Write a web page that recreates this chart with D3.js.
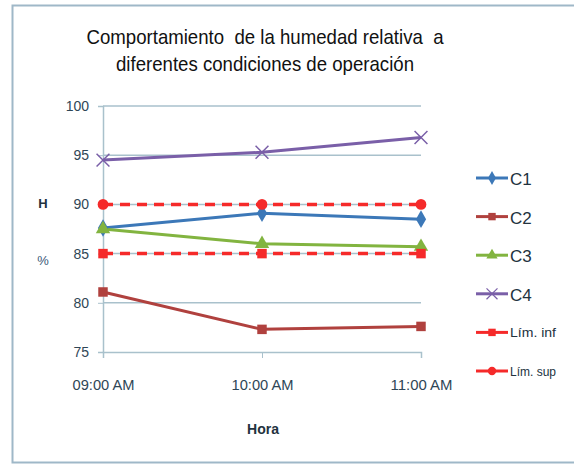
<!DOCTYPE html>
<html>
<head>
<meta charset="utf-8">
<script src="https://cdn.jsdelivr.net/npm/d3@7"></script>
<style>
  body { margin: 0; background: #fff; }
  text { font-family: "Liberation Sans Narrow", "Arial Narrow", "Liberation Sans", sans-serif; }
</style>
</head>
<body>
<div id="chart"></div>
<script>
// data
const horas = ["09:00 AM", "10:00 AM", "11:00 AM"];
const c1 = [87.6, 89.1, 88.5];
const c2 = [81.1, 77.3, 77.6];
const c3 = [87.5, 86.0, 85.7];
const c4 = [94.5, 95.3, 96.8];
const limInf = [85, 85, 85];
const limSup = [90, 90, 90];
const yTicks = [75, 80, 85, 90, 95, 100];

const series = [
    {name: "C1", values: c1, color: "#3c78b8", symbol: d3.symbolDiamond, dash: null},
    {name: "C2", values: c2, color: "#b0413e", symbol: d3.symbolSquare, dash: null},
    {name: "C3", values: c3, color: "#82b440", symbol: d3.symbolTriangle, dash: null},
    {name: "C4", values: c4, color: "#7a5fa8", symbol: d3.symbolX, dash: null},
    {name: "Lím. inf", values: limInf, color: "#f52a2a", symbol: d3.symbolSquare, dash: "10,7"},
    {name: "Lím. sup", values: limSup, color: "#f52a2a", symbol: d3.symbolCircle, dash: "10,7"}
];

const W = 574, H = 465;
const svg = d3.select("#chart").append("svg")
    .attr("width", W).attr("height", H);

// outer frame
svg.append("rect")
    .attr("x", 12.5).attr("y", 5.5)
    .attr("width", 565).attr("height", 457)
    .attr("fill", "#fff")
    .attr("stroke", "#9fb8c8").attr("stroke-width", 2);

const x = d3.scalePoint().domain(horas).range([103, 421]);
const y = d3.scaleLinear().domain([75, 100]).range([352, 106]);

// title (squeezed to look like a narrow font)
const titulo = [
    {t: "Comportamiento  de la humedad relativa  a", w: 357, y: 44},
    {t: "diferentes condiciones de operación", w: 298, y: 71}
];
svg.append("g").selectAll("text")
    .data(titulo)
    .join("text")
    .attr("x", 265).attr("y", d => d.y)
    .attr("text-anchor", "middle")
    .attr("font-size", 21).attr("fill", "#111")
    .attr("textLength", d => d.w)
    .attr("lengthAdjust", "spacingAndGlyphs")
    .style("white-space", "pre")
    .text(d => d.t);

// grid lines
svg.append("g")
    .selectAll("line")
    .data(yTicks.slice(1))
    .join("line")
    .attr("x1", 103).attr("x2", 421)
    .attr("y1", d => y(d)).attr("y2", d => y(d))
    .attr("stroke", "#a9c1cc").attr("stroke-width", 1.5);

// y axis
const yAxis = svg.append("g")
    .attr("transform", "translate(103,0)")
    .call(d3.axisLeft(y).tickValues(yTicks).tickSize(5).tickPadding(9));
yAxis.select(".domain").attr("stroke", "#a9c1cc").attr("stroke-width", 1.5);
yAxis.selectAll(".tick line").attr("stroke", "#a9c1cc");
yAxis.selectAll("text").attr("font-size", 14).attr("fill", "#2f4656")
    .style("font-family", "'Liberation Sans', sans-serif");

// x axis
const xAxis = svg.append("g")
    .attr("transform", "translate(0,352)")
    .call(d3.axisBottom(x).tickSize(6).tickPadding(22));
xAxis.select(".domain").attr("stroke", "#a9c1cc").attr("stroke-width", 1.5);
xAxis.selectAll(".tick line").attr("stroke", "#a9c1cc");
xAxis.selectAll("text").attr("font-size", 14).attr("fill", "#2f4656")
    .attr("textLength", 62).attr("lengthAdjust", "spacingAndGlyphs");

// axis titles
svg.append("text").attr("x", 43).attr("y", 208)
    .attr("text-anchor", "middle").attr("font-size", 13).attr("font-weight", "bold")
    .attr("fill", "#22323e").text("H");
svg.append("text").attr("x", 43).attr("y", 265)
    .attr("text-anchor", "middle").attr("font-size", 13)
    .attr("fill", "#3a5a78").text("%");
svg.append("text").attr("x", 263).attr("y", 434)
    .attr("text-anchor", "middle").attr("font-size", 14).attr("font-weight", "bold")
    .attr("fill", "#22323e").text("Hora");

// lines
const line = d3.line().x((d, i) => x(horas[i])).y(d => y(d));
const sym = d3.symbol().size(70);

const plot = svg.append("g");
series.forEach(s => {
    plot.append("path")
        .attr("d", line(s.values))
        .attr("fill", "none")
        .attr("stroke", s.color)
        .attr("stroke-width", s.dash ? 3.5 : 3)
        .attr("stroke-dasharray", s.dash);
});
series.forEach(s => {
    plot.selectAll(null)
        .data(s.values)
        .join("path")
        .attr("transform", (d, i) => `translate(${x(horas[i])},${y(d)})`)
        .attr("d", sym.type(s.symbol).size(s.symbol === d3.symbolX ? 110 : 90)())
        .attr("fill", s.symbol === d3.symbolX ? "none" : s.color)
        .attr("stroke", s.symbol === d3.symbolX ? s.color : "none")
        .attr("stroke-width", 1.5);
});

// legend
const legend = svg.append("g");
const ly = d3.scalePoint().domain(series.map(s => s.name)).range([178, 371]);
series.forEach(s => {
    const g = legend.append("g").attr("transform", `translate(476,${ly(s.name)})`);
    g.append("line").attr("x1", 0).attr("x2", 32)
        .attr("stroke", s.color).attr("stroke-width", 3);
    g.append("path").attr("transform", "translate(16,0)")
        .attr("d", sym.type(s.symbol).size(s.symbol === d3.symbolX ? 80 : 55)())
        .attr("fill", s.symbol === d3.symbolX ? "none" : s.color)
        .attr("stroke", s.symbol === d3.symbolX ? s.color : "none")
        .attr("stroke-width", 1.2);
    const big = !s.dash;
    const txt = g.append("text").attr("x", 34).attr("y", big ? 7 : 5)
        .attr("font-size", big ? 17 : 13)
        .attr("fill", "#22323e")
        .text(s.name);
    if (!big) txt.attr("textLength", 46).attr("lengthAdjust", "spacingAndGlyphs");
});
</script>
</body>
</html>
